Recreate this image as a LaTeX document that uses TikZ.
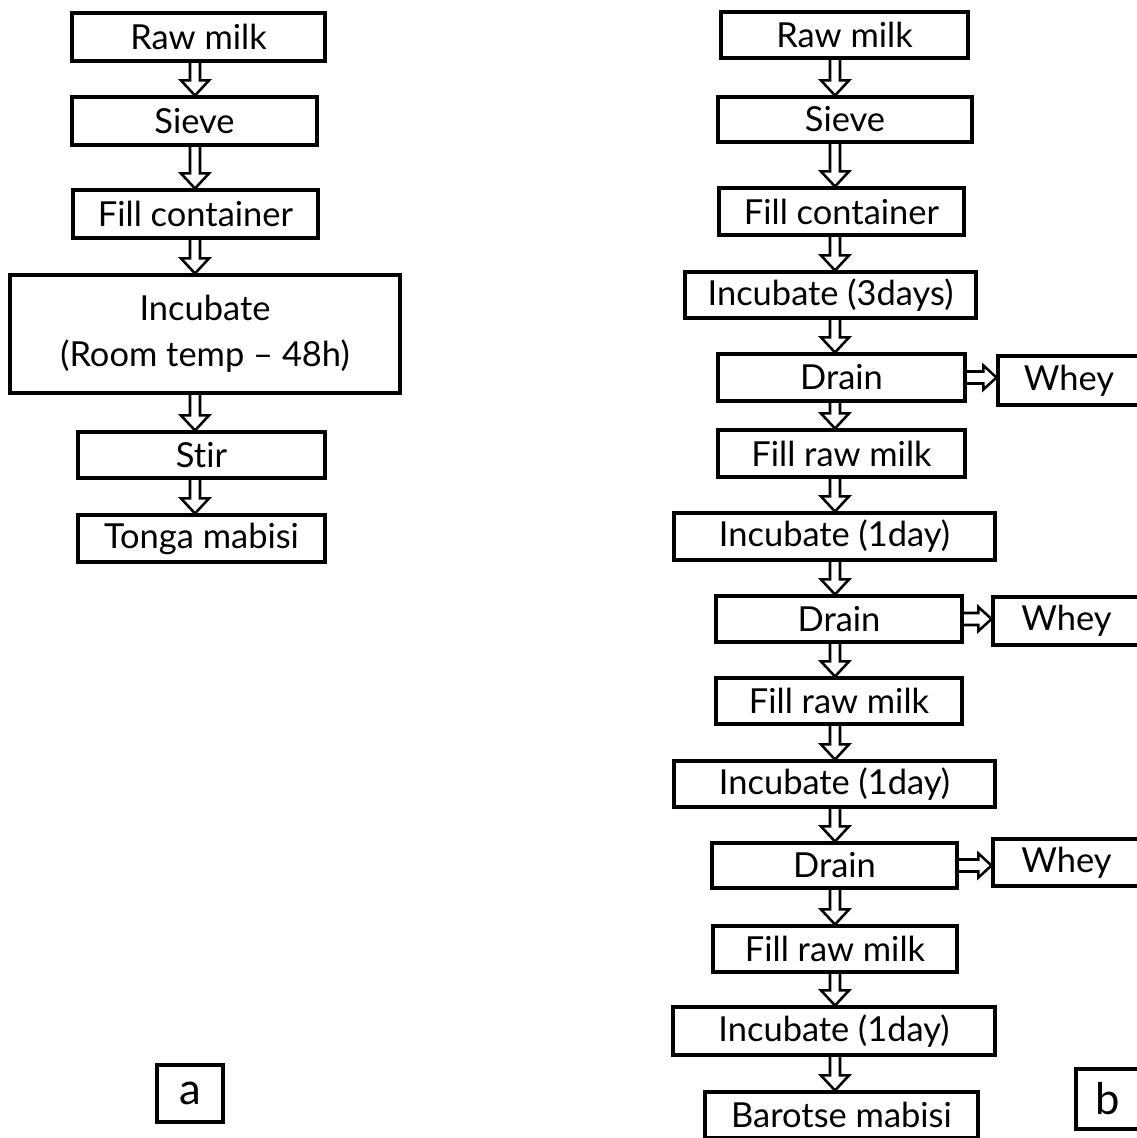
\documentclass[tikz,border=0pt]{standalone}
\usepackage{fontspec}
\setmainfont{Lato}[Ligatures=NoCommon]
\usetikzlibrary{calc}

% hollow block arrows between boxes
\newcommand{\vflow}[3]{%
  \draw[flowline] ($(#2.south -| #1)+(-5,0)$) -- ($(#3.north -| #1)+(-5,-15)$)
    -- ++(-9,0) -- (#3.north -| #1) -- ++(14,-15) -- ++(-9,0)
    -- ($(#2.south -| #1)+(5,0)$);
}
\newcommand{\hflow}[2]{%
  \draw[flowline] ($(#1.east)+(0,-6)$) -- ($(#2.west |- #1.east)+(-13,-6)$)
    -- ++(0,-6) -- (#2.west |- #1.east) -- ++(-13,12) -- ++(0,-6)
    -- ($(#1.east)+(0,6)$);
}

\begin{document}
\begin{tikzpicture}[x=0.025cm, y=-0.025cm]

\tikzset{
  stepbox/.style 2 args={
    draw=black, line width=2.2pt, inner sep=0pt,
    minimum width=#1*0.025cm, minimum height=#2*0.025cm,
    font=\fontsize{24.5}{33}\selectfont, align=center
  },
  labelbox/.style 2 args={
    stepbox={#1}{#2}, font=\fontsize{31}{36}\selectfont
  },
  flowline/.style={draw=black, line width=1.8pt, line join=miter}
}

\useasboundingbox (0,0) rectangle (1137,1138);
\clip (0,0) rectangle (1137,1138);

\coordinate (colA) at (195,0);
\coordinate (colB) at (835,0);

% (a)
\node[stepbox={253}{48}] (rawA) at (198.5,37) {Raw milk};
\node[stepbox={245}{48}] (sieveA) at (194.5,121) {Sieve};
\node[stepbox={245}{48}] (fillA) at (195.5,214) {Fill container};
\node[stepbox={390}{118}] (incA) at (205,334) {Incubate\\(Room temp – 48h)};
\node[stepbox={247}{46}] (stirA) at (201.5,455) {Stir};
\node[stepbox={247}{47}] (tongaA) at (201.5,538.5) {Tonga mabisi};
\node[labelbox={66}{57}] (labA) at (190,1093.5) {a};

\foreach \a/\b in {rawA/sieveA, sieveA/fillA, fillA/incA, incA/stirA, stirA/tongaA} {
  \vflow{colA}{\a}{\b}
}

% (b)
\node[stepbox={247}{46}] (rawB) at (844.5,35) {Raw milk};
\node[stepbox={254}{45}] (sieveB) at (845,119.5) {Sieve};
\node[stepbox={245}{47}] (fillB) at (841.5,211.5) {Fill container};
\node[stepbox={291}{46}] (incB) at (830.5,295) {Incubate (3days)};
\node[stepbox={247}{47}] (drain1) at (841.5,377.5) {Drain};
\node[stepbox={142}{49}] (whey1) at (1069,380.5) {Whey};
\node[stepbox={247}{47}] (milk1) at (841.5,453.5) {Fill raw milk};
\node[stepbox={321}{47}] (day1) at (834.5,536.5) {Incubate (1day)};
\node[stepbox={246}{46}] (drain2) at (839,619) {Drain};
\node[stepbox={147}{48}] (whey2) at (1066.5,621) {Whey};
\node[stepbox={246}{46}] (milk2) at (839,701) {Fill raw milk};
\node[stepbox={321}{46}] (day2) at (834.5,784) {Incubate (1day)};
\node[stepbox={245}{45}] (drain3) at (834.5,865.5) {Drain};
\node[stepbox={147}{47}] (whey3) at (1066.5,862.5) {Whey};
\node[stepbox={244}{46}] (milk3) at (835,949) {Fill raw milk};
\node[stepbox={322}{48}] (day3) at (834,1031) {Incubate (1day)};
\node[stepbox={273}{46}] (barotse) at (841.5,1115) {Barotse mabisi};
\node[labelbox={64}{60}] (labB) at (1108,1099) {b};

\foreach \a/\b in {rawB/sieveB, sieveB/fillB, fillB/incB, incB/drain1,
  drain1/milk1, milk1/day1, day1/drain2, drain2/milk2, milk2/day2,
  day2/drain3, drain3/milk3, milk3/day3, day3/barotse} {
  \vflow{colB}{\a}{\b}
}

\foreach \i in {1,2,3} {
  \hflow{drain\i}{whey\i}
}

\end{tikzpicture}
\end{document}
